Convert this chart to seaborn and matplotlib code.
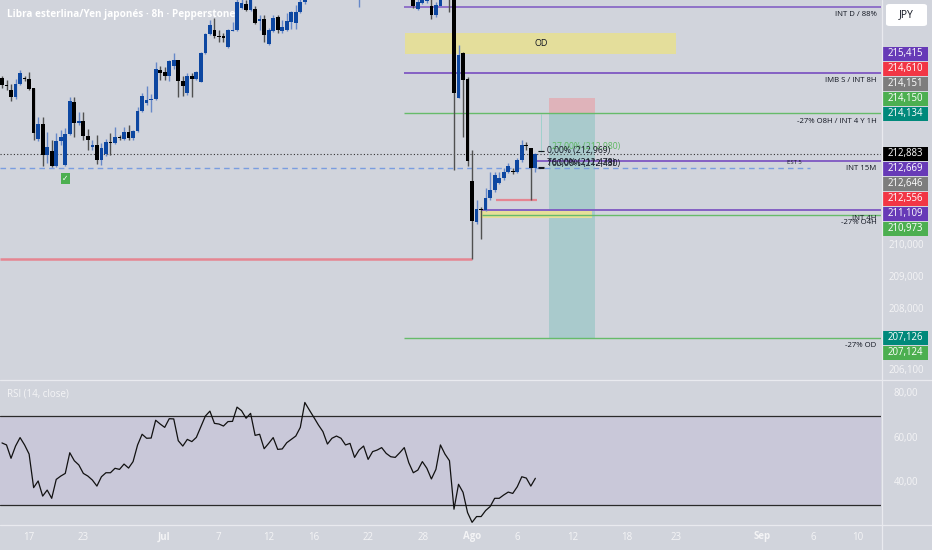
import numpy as np
import pandas as pd
import matplotlib
matplotlib.use("Agg")
import matplotlib.pyplot as plt
import seaborn as sns
from matplotlib import transforms
from matplotlib.patches import Rectangle, FancyBboxPatch
from matplotlib.lines import Line2D

sns.set_theme(style="white")
plt.rcParams["font.family"] = ["Open Sans", "DejaVu Sans"]

# ---------------- data ----------------
title = "Libra esterlina/Yen japonés · 8h · Pepperstone"

opens = [
    215.25, 215.03, 214.88, 214.66, 215.06, 215.25, 215.22, 214.94, 213.34, 213.81,
    212.84, 212.97, 212.50, 213.28, 212.53, 213.50, 214.50, 213.84, 213.91, 213.44,
    213.09, 213.16, 212.69, 212.88, 213.25, 213.22, 213.41, 213.34, 213.56, 213.38,
    213.59, 214.22, 214.47, 214.56, 214.59, 215.50, 215.44, 215.31, 215.63, 215.81,
    215.16, 214.78, 215.31, 215.22, 215.13, 216.03, 216.63, 216.75, 216.56, 216.56,
    216.22, 216.72, 216.75, 217.44, 217.56, 217.38, 217.41, 217.03, 217.09, 216.31,
    216.72, 217.16, 216.72, 216.75, 217.00, 216.97, 217.31, 217.63, 217.80, 218.02,
    218.28, 218.12, 217.95, 218.05, 218.22, 218.38, 218.26, 218.02, 218.10, 217.86,
    218.05, 218.20, 217.92, 218.10, 218.15, 218.28, 218.12, 218.00, 217.95, 218.12,
    218.25, 217.85, 217.41, 217.59, 217.66, 217.50, 217.22, 217.50, 217.95, 217.84,
    217.76, 214.62, 216.03, 215.22, 212.03, 210.75, 211.16, 211.13, 211.50, 211.75,
    211.97, 212.13, 212.31, 212.34, 212.31, 212.69, 213.16, 213.06, 212.44]
highs = [
    215.31, 215.19, 215.06, 215.22, 215.50, 215.31, 215.44, 214.94, 214.03, 214.03,
    213.56, 213.31, 213.53, 213.63, 213.69, 214.66, 214.66, 214.19, 214.19, 213.66,
    213.31, 213.47, 213.22, 213.34, 213.53, 213.72, 213.47, 213.72, 213.78, 213.63,
    214.34, 214.78, 215.00, 214.75, 215.75, 215.63, 215.59, 215.81, 216.03, 215.81,
    215.31, 215.41, 215.41, 215.47, 216.06, 216.66, 217.06, 217.13, 216.75, 216.66,
    216.78, 217.00, 217.72, 217.75, 217.69, 217.80, 217.50, 217.22, 217.22, 216.81,
    217.22, 217.22, 217.06, 217.28, 217.34, 217.53, 217.72, 217.90, 218.10, 218.35,
    218.40, 218.20, 218.10, 218.30, 218.45, 218.50, 218.35, 218.20, 218.15, 218.15,
    218.30, 218.25, 218.15, 218.22, 218.35, 218.32, 218.18, 218.10, 218.20, 218.30,
    218.28, 217.90, 217.72, 217.90, 217.80, 217.75, 217.62, 218.00, 218.05, 217.92,
    217.85, 216.28, 216.06, 215.28, 213.00, 211.44, 211.22, 211.81, 212.31, 212.31,
    212.31, 212.44, 212.59, 212.44, 212.75, 213.31, 213.25, 213.06, 212.90]
lows = [
    214.94, 214.88, 214.53, 214.59, 215.03, 215.16, 214.88, 213.31, 213.28, 212.50,
    212.59, 212.47, 212.47, 213.16, 212.50, 213.47, 213.41, 213.78, 213.31, 213.00,
    213.00, 212.56, 212.53, 212.81, 212.84, 213.19, 213.31, 213.31, 213.31, 213.31,
    213.56, 214.19, 214.41, 214.19, 214.56, 215.19, 215.19, 215.16, 215.53, 214.66,
    214.69, 214.72, 214.66, 215.19, 215.13, 216.00, 216.59, 216.50, 216.38, 216.38,
    216.19, 216.72, 216.72, 217.41, 217.34, 217.34, 216.94, 216.75, 216.38, 216.28,
    216.69, 216.66, 216.66, 216.72, 216.78, 216.78, 217.28, 217.56, 217.72, 217.95,
    218.05, 217.85, 217.80, 218.00, 218.15, 218.20, 217.95, 217.90, 217.78, 217.47,
    217.95, 217.85, 217.88, 218.00, 218.10, 218.05, 217.92, 217.85, 217.90, 218.05,
    217.80, 217.44, 217.38, 217.55, 217.60, 217.09, 217.16, 217.50, 217.80, 217.31,
    212.38, 214.62, 213.41, 212.50, 209.60, 210.69, 210.22, 211.09, 211.44, 211.69,
    211.94, 212.06, 212.28, 212.25, 212.28, 212.63, 213.00, 211.45, 212.31]
closes = [
    215.03, 214.99, 214.66, 215.06, 215.41, 215.22, 214.91, 213.53, 213.81, 212.84,
    213.09, 212.50, 213.28, 213.41, 213.50, 214.53, 213.84, 213.91, 213.44, 213.31,
    213.16, 212.69, 213.06, 213.25, 213.22, 213.41, 213.38, 213.56, 213.38, 213.59,
    214.22, 214.69, 214.56, 214.59, 215.53, 215.41, 215.31, 215.78, 215.81, 215.16,
    215.00, 215.31, 215.22, 215.44, 216.03, 216.63, 216.91, 216.56, 216.53, 216.50,
    216.75, 216.75, 217.63, 217.59, 217.38, 217.75, 216.97, 217.09, 216.59, 216.75,
    217.13, 216.75, 216.84, 217.03, 217.31, 217.31, 217.63, 217.80, 218.02, 218.28,
    218.12, 217.95, 218.05, 218.22, 218.38, 218.26, 218.02, 218.10, 217.86, 218.05,
    218.20, 217.92, 218.10, 218.15, 218.28, 218.12, 218.00, 217.95, 218.12, 218.25,
    217.85, 217.50, 217.63, 217.80, 217.68, 217.22, 217.53, 217.95, 217.84, 217.76,
    214.78, 215.97, 215.19, 212.66, 210.78, 211.16, 211.13, 211.50, 211.75, 212.22,
    212.13, 212.31, 212.50, 212.31, 212.69, 213.16, 213.13, 212.44, 212.883]
rsi = [
    57.9, 57.0, 51.0, 56.5, 60.3, 57.0, 52.9, 37.8, 40.8, 34.0,
    36.7, 33.0, 41.5, 43.0, 44.2, 53.5, 49.9, 48.0, 44.2, 43.0,
    41.2, 38.5, 42.7, 44.5, 44.5, 46.5, 46.0, 48.4, 46.6, 49.5,
    57.0, 61.8, 60.0, 60.1, 68.1, 66.4, 64.9, 68.8, 68.7, 58.9,
    56.5, 59.5, 58.5, 60.4, 65.2, 70.0, 72.2, 66.7, 66.4, 65.5,
    67.5, 67.6, 74.0, 72.4, 69.0, 71.2, 61.3, 61.8, 55.3, 57.7,
    60.3, 55.0, 55.2, 58.0, 59.5, 61.0, 64.9, 76.1, 72.7, 69.4,
    66.0, 63.0, 57.4, 60.0, 61.0, 60.0, 57.0, 57.7, 51.4, 54.7,
    56.5, 50.5, 54.0, 54.7, 55.8, 53.2, 51.7, 51.4, 53.5, 55.8,
    49.0, 44.5, 45.7, 49.5, 46.5, 41.7, 46.0, 57.0, 52.9, 49.9,
    28.1, 39.3, 35.7, 26.6, 22.2, 24.8, 24.8, 27.5, 29.3, 33.0,
    33.0, 34.5, 35.8, 35.2, 38.2, 42.7, 42.1, 38.5, 42.0]

xtick_labels = ["17", "23", "Jul", "7", "12", "16", "22", "28", "Ago", "6",
                "12", "18", "23", "Sep", "6", "10"]
xtick_pos = [6.0, 17.9, 35.8, 47.9, 58.9, 68.9, 80.9, 93.1, 104.1, 114.1,
             126.2, 138.3, 149.1, 168.2, 179.4, 189.3]
xtick_bold = ["Jul", "Ago", "Sep"]

price_ticks = [210.0, 209.0, 208.0, 206.1]
rsi_ticks = [80, 60, 40]
rsi_upper, rsi_lower = 70, 30

# level labels on the price scale
level_prices = [215.415, 214.610, 214.151, 214.150, 214.134, 212.883, 212.669,
                212.646, 212.556, 211.109, 210.973, 207.126, 207.124]
level_colors = ["#673ab7", "#f23645", "#7d7d7d", "#4caf50", "#00897b", "#000000",
                "#673ab7", "#7d7d7d", "#f23645", "#673ab7", "#4caf50", "#00897b",
                "#4caf50"]

# drawn levels
lvl_int_d = 217.48
lvl_imb_s = 215.415
lvl_o8h = 214.150
lvl_int15 = 212.669
lvl_fib100 = 212.430
lvl_low_red = 209.60
lvl_sweep = 211.45
lvl_int4h = 211.109
lvl_o4h = 210.973
lvl_od = 207.126
od_zone = (216.00, 216.66)
small_zone = (210.88, 211.08)
pos_stop, pos_entry, pos_target = 214.610, 214.134, 207.126
fib_levels = [212.980, 212.969, 212.478, 212.430]
fib_texts = ["27,00% (212,980)", "0,00% (212,969)", "76,00% (212,478)", "100,00% (212,430)"]

# ---------------- styling ----------------
BG = "#d1d4dc"
BAND = "#c9c8d9"
BULL = "#0d47a1"
BULL_W = "#6688c8"
BEAR = "#000000"
BEAR_W = "#505050"
PURPLE = "#7e57c2"
GREEN = "#66bb6a"
PINK = "#e58591"
TXT = "#131722"
W, H = 932, 550

def fx(px):
    return px / W

def fy(py):
    return 1 - py / H

fig = plt.figure(figsize=(W / 100, H / 100), dpi=100, facecolor=BG)
ax = fig.add_axes([0, fy(379), fx(881), 379 / H])
axr = fig.add_axes([0, fy(525), fx(881), 145 / H], sharex=ax)
for a in (ax, axr):
    a.set_facecolor(BG)
    for s in a.spines.values():
        s.set_visible(False)
    a.set_xticks([])
    a.set_yticks([])
    a.set_autoscale_on(False)

XMIN, XMAX = -0.44, 194.47
YMIN, YMAX = 205.84, 217.6875
RMIN, RMAX = 21.0, 86.2

df = pd.DataFrame({"o": opens, "h": highs, "l": lows, "c": closes, "rsi": rsi})
df["i"] = np.arange(len(df))
bull = df["c"] >= df["o"]
minh = 1.0 / 32

# ---- zones & levels (behind candles) ----
ax.add_patch(Rectangle((89.2, od_zone[0]), 149.1 - 89.2, od_zone[1] - od_zone[0],
                       fc="#e4de9b", ec="none", zorder=1))
ax.text(119.2, sum(od_zone) / 2, "OD", ha="center", va="center", fontsize=6.5,
        color=TXT, zorder=2)
ax.add_patch(Rectangle((121.0, pos_entry), 10.2, pos_stop - pos_entry,
                       fc="#dfb3ba", ec="none", zorder=1))
ax.add_patch(Rectangle((121.0, pos_target), 10.2, pos_entry - pos_target,
                       fc="#a9cacc", ec="none", zorder=1))
ax.add_patch(Rectangle((105.8, small_zone[0]), 130.5 - 105.8, small_zone[1] - small_zone[0],
                       fc="#e6df98", ec="none", zorder=1))
ax.vlines(119.2, 212.94, pos_entry, color="#9fd0cc", lw=0.7, zorder=2)

ax.hlines(lvl_int_d, 88.9, XMAX, color=PURPLE, lw=1.1, zorder=2)
ax.hlines(lvl_imb_s, 88.9, XMAX, color=PURPLE, lw=1.3, zorder=2)
ax.hlines(lvl_o8h, 88.9, XMAX, color=GREEN, lw=1.0, zorder=2)
ax.hlines(lvl_int15, 118.4, XMAX, color=PURPLE, lw=1.3, zorder=2)
ax.hlines(lvl_int4h, 106.1, XMAX, color=PURPLE, lw=1.3, zorder=2)
ax.hlines(lvl_o4h, 106.1, XMAX, color=GREEN, lw=1.0, zorder=2)
ax.hlines(lvl_od, 88.9, XMAX, color=GREEN, lw=1.0, zorder=2)
ax.hlines(lvl_fib100, XMIN, 178.8, color="#7a9de0", lw=1.0, linestyles=(0, (4, 3)), zorder=2)
ax.hlines(lvl_low_red, XMIN, 104.0, color=PINK, lw=1.8, zorder=2)
ax.hlines(lvl_sweep, 109.3, 118.3, color=PINK, lw=1.6, zorder=2)
ax.hlines(closes[-1], XMIN, XMAX, color="#333333", lw=0.8, linestyles=(0, (1, 2)), zorder=2)

# ---- candles ----
ax.vlines(df["i"], df["l"], df["h"], colors=np.where(bull, BULL_W, BEAR_W), lw=1.0, zorder=3)
body_bot = np.minimum(df["o"], df["c"])
body_h = np.maximum((df["c"] - df["o"]).abs(), minh)
ax.bar(df["i"], body_h, bottom=body_bot, width=0.82,
       color=np.where(bull, BULL, BEAR), edgecolor="none", zorder=4)

# ---- fib texts ----
for lv, col in zip(fib_levels, [GREEN, TXT, TXT, TXT]):
    ax.hlines(lv, 118.6, 119.9, color=col, lw=0.8, zorder=5)
ax.text(121.6, fib_levels[0], fib_texts[0], color="#5cb85f", fontsize=6.2, va="bottom", zorder=6)
ax.text(120.6, fib_levels[1], fib_texts[1], color=TXT, fontsize=6.2, va="center", zorder=6)
ax.text(120.6, fib_levels[2], fib_texts[2], color=TXT, fontsize=6.2, va="bottom", zorder=6)
ax.text(120.6, fib_levels[3], fib_texts[3], color=TXT, fontsize=6.2, va="bottom", zorder=6)

# ---- level captions ----
cap_off = 0.25
for lv, t in [(lvl_int_d, "INT D / 88%"), (lvl_imb_s, "IMB S / INT 8H"),
              (lvl_o8h, "-27% O8H / INT 4 Y 1H"), (lvl_int15, "INT 15M"),
              (lvl_int4h, "INT 4H"), (lvl_o4h, "-27% O4H"), (lvl_od, "-27% OD")]:
    ax.text(193.5, lv - cap_off, t, ha="right", va="center", fontsize=5.6, color=TXT, zorder=6)
ax.text(175.4, lvl_fib100 + 0.19, "EST 5", ha="center", va="center", fontsize=4.2,
        color=TXT, zorder=6)

# checkmark
ax.text(14.05, 212.115, "✓", ha="center", va="center", fontsize=5.5, color="white",
        fontweight="bold", family=["DejaVu Sans"],
        bbox=dict(boxstyle="square,pad=0.15", fc="#4caf50", ec="none"), zorder=6)

ax.set_xlim(XMIN, XMAX)
ax.set_ylim(YMIN, YMAX)

# ---- RSI pane ----
axr.axhspan(rsi_lower, rsi_upper, color=BAND, zorder=1, lw=0)
axr.axhline(rsi_upper, color="#2a2a2a", lw=0.9, zorder=2)
axr.axhline(rsi_lower, color="#2a2a2a", lw=0.9, zorder=2)
sns.lineplot(data=df, x="i", y="rsi", ax=axr, color="#111111", linewidth=0.9, zorder=3)
axr.set_xlabel("")
axr.set_ylabel("")
axr.set_xticks([])
axr.set_yticks([])
axr.set_xlim(XMIN, XMAX)
axr.set_ylim(RMIN, RMAX)

# ---- price scale labels ----
tp = transforms.blended_transform_factory(fig.transFigure, ax.transData)
step = 15 / 32.0
lab_h = 14 / 32.0
ref = closes[-1]
above = sorted([(p, c) for p, c in zip(level_prices, level_colors) if p > ref])
below = sorted([(p, c) for p, c in zip(level_prices, level_colors) if p <= ref], reverse=True)
placed = []
last = None
for p, c in above:
    pos = p if last is None else max(p, last + step)
    placed.append((pos, p, c))
    last = pos
last = None
for p, c in below:
    pos = p if last is None else min(p, last - step)
    placed.append((pos, p, c))
    last = pos
for pos, p, c in placed:
    ax.add_patch(Rectangle((fx(882), pos - lab_h / 2), fx(46), lab_h, transform=tp,
                           fc=c, ec="none", clip_on=False, zorder=10))
    ax.text(fx(905), pos, f"{p:.3f}".replace(".", ","), transform=tp, ha="center",
            va="center", fontsize=6.9, color="white", clip_on=False, zorder=11)
for p in price_ticks:
    ax.text(fx(906), p, f"{p:.3f}".replace(".", ","), transform=tp, ha="center",
            va="center", fontsize=6.9, color="#f4f4f6", clip_on=False, zorder=9)

tr = transforms.blended_transform_factory(fig.transFigure, axr.transData)
for r in rsi_ticks:
    axr.text(fx(906), r, f"{r:.2f}".replace(".", ","), transform=tr, ha="center",
             va="center", fontsize=6.9, color="#f4f4f6", clip_on=False)

# x labels
tx = transforms.blended_transform_factory(axr.transData, fig.transFigure)
for lab, pos in zip(xtick_labels, xtick_pos):
    axr.text(pos, fy(537), lab, transform=tx, ha="center", va="center", fontsize=7,
             color="#f4f4f6", fontweight="bold" if lab in xtick_bold else "normal",
             clip_on=False)

# separators
for line in [Line2D([0, 1], [fy(379.5), fy(379.5)]), Line2D([0, 1], [fy(525), fy(525)]),
             Line2D([fx(881.5), fx(881.5)], [0, 1])]:
    line.set_transform(fig.transFigure)
    line.set_color("#e9eaef")
    line.set_linewidth(0.9)
    fig.add_artist(line)

# title / pane labels
fig.text(fx(7), fy(15), title, ha="left", va="center", fontsize=7.2, color="white",
         fontweight="bold")
fig.text(fx(7), fy(394), "RSI (14, close)", ha="left", va="center", fontsize=7.0,
         color="#f4f4f6")

# JPY box
fig.add_artist(FancyBboxPatch((fx(886), fy(26)), fx(41), 22 / H,
                              boxstyle="round,pad=0,rounding_size=0.004",
                              transform=fig.transFigure, fc="white", ec="none"))
fig.text(fx(906.5), fy(15), "JPY", ha="center", va="center", fontsize=7.5, color=TXT)

fig.savefig("out.png", dpi=100, facecolor=BG)
